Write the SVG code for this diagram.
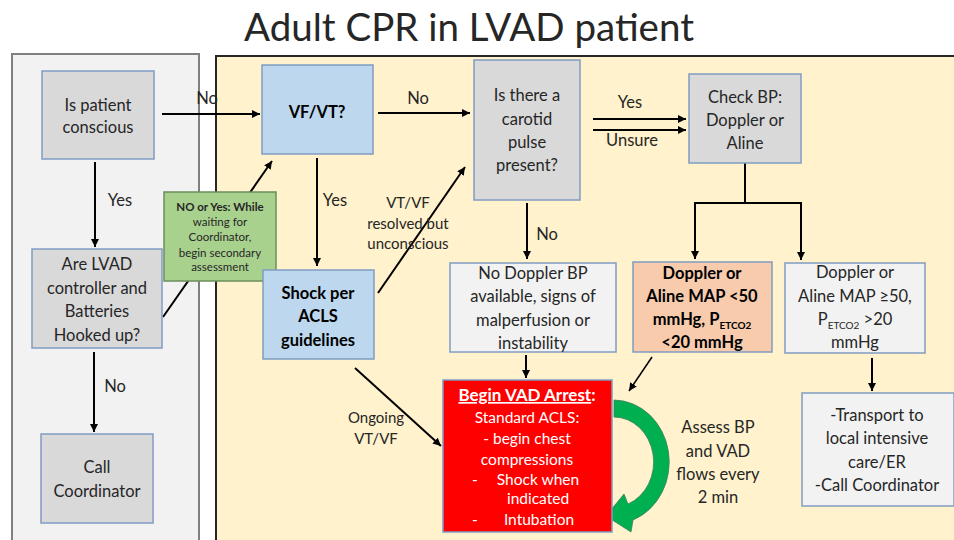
<svg xmlns="http://www.w3.org/2000/svg" width="954" height="540" viewBox="0 0 954 540">
<defs>
<marker id="ah" markerUnits="userSpaceOnUse" markerWidth="10" markerHeight="10" refX="8" refY="4" orient="auto">
<path d="M0,0 L8,4 L0,8 Z" fill="#000"/>
</marker>
<style>
text{font-family:Lato,"Open Sans","Liberation Sans",sans-serif;fill:#262626;text-anchor:middle;font-size:16.5px}
.b{font-weight:bold;fill:#000}
.w{fill:#fff;font-size:15.5px}
.g{font-size:11.5px}
.box{stroke:#7f9cc2;stroke-width:1.5}
.gray{fill:#d9d9d9}
.blue{fill:#bdd7ee}
.light{fill:#f2f2f2}
.c{stroke:#000;stroke-width:2;fill:none;marker-end:url(#ah)}
.cl{stroke:#000;stroke-width:2;fill:none}
</style>
</defs>
<rect width="954" height="540" fill="#fff"/>
<text x="469" y="41" style="font-size:38.5px" fill="#262626">Adult CPR in LVAD patient</text>
<rect x="12" y="54" width="187" height="500" fill="#f2f2f2" stroke="#808080" stroke-width="2"/>
<rect x="216" y="56" width="750" height="500" fill="#fff2cc" stroke="#262626" stroke-width="2"/>

<g id="connectors">
<path class="c" d="M162 114 H260"/>
<path class="c" d="M95 162 V247"/>
<path class="c" d="M94 352 V432"/>
<path class="c" d="M163 317 L272 161"/>
<path class="c" d="M378 113 H470"/>
<path class="c" d="M317 158 V266"/>
<path class="c" d="M378 293 L465 167"/>
<path class="c" d="M355 368 L441 446"/>
<path class="c" d="M593 119 H686"/>
<path class="c" d="M593 130 H686"/>
<path class="cl" d="M745 163 V203 M694 203 H802"/>
<path class="c" d="M695 203 V259"/>
<path class="c" d="M801 203 V260"/>
<path class="c" d="M527 203 V259"/>
<path class="c" d="M526 355 V378"/>
<path class="c" d="M652 357 L629 391" style="stroke-width:1.5"/>
<path class="c" d="M872 358 V391"/>
<path d="M614 400 A 56 62 0 0 1 633 520 L 631 532 L 606 516 L 624 494 L 628 504 A 40 45 0 0 0 614 417 Z" fill="#00b050" stroke="#3f7f5f" stroke-width="0.8"/>
<text x="207" y="104">No</text>
<text x="120" y="206">Yes</text>
<text x="115" y="392">No</text>
<text x="418" y="104">No</text>
<text x="335" y="206">Yes</text>
<text x="630" y="108">Yes</text>
<text x="632" y="146">Unsure</text>
<text x="547" y="240">No</text>
<text x="408" y="208" style="font-size:15px">VT/VF</text>
<text x="408" y="229" style="font-size:15px">resolved but</text>
<text x="408" y="249" style="font-size:15px">unconscious</text>
<text x="376" y="423" style="font-size:15px">Ongoing</text>
<text x="376" y="444" style="font-size:15px">VT/VF</text>
<text x="718" y="433">Assess BP</text>
<text x="718" y="457">and VAD</text>
<text x="718" y="480">flows every</text>
<text x="718" y="503">2 min</text>
</g>

<g id="conscious">
<rect class="box gray" x="42" y="71" width="112" height="88"/>
<text x="98" y="111">Is patient</text>
<text x="98" y="133">conscious</text>
</g>
<g id="lvad">
<rect class="box gray" x="32" y="249" width="130" height="99"/>
<text x="97" y="270">Are LVAD</text>
<text x="97" y="294">controller and</text>
<text x="97" y="317">Batteries</text>
<text x="97" y="341">Hooked up?</text>
</g>
<g id="call">
<rect class="box gray" x="41" y="434" width="112" height="89"/>
<text x="97" y="473">Call</text>
<text x="97" y="497">Coordinator</text>
</g>
<g id="note">
<rect x="164" y="192" width="112" height="89" fill="#a9d18e" stroke="#6b8e5a" stroke-width="1.5"/>
<text class="g" x="220" y="211" font-weight="bold">NO or Yes: While</text>
<text class="g" x="220" y="226">waiting for</text>
<text class="g" x="220" y="241">Coordinator,</text>
<text class="g" x="220" y="257">begin secondary</text>
<text class="g" x="220" y="271">assessment</text>
</g>
<g id="vfvt">
<rect class="box blue" x="262" y="65" width="111" height="89"/>
<text class="b" x="317" y="118">VF/VT?</text>
</g>
<g id="shock">
<rect class="box blue" x="263" y="270" width="111" height="89"/>
<text class="b" x="318" y="299">Shock per</text>
<text class="b" x="318" y="322">ACLS</text>
<text class="b" x="318" y="346">guidelines</text>
</g>
<g id="carotid">
<rect class="box gray" x="474" y="60" width="106" height="140"/>
<text x="527" y="101">Is there a</text>
<text x="527" y="125">carotid</text>
<text x="527" y="148">pulse</text>
<text x="527" y="171">present?</text>
</g>
<g id="checkbp">
<rect class="box gray" x="689" y="74" width="112" height="89"/>
<text x="745" y="103">Check BP:</text>
<text x="745" y="126">Doppler or</text>
<text x="745" y="149">Aline</text>
</g>
<g id="nodoppler">
<rect class="box light" x="450" y="263" width="166" height="89"/>
<text x="533" y="279">No Doppler BP</text>
<text x="533" y="302">available, signs of</text>
<text x="533" y="326">malperfusion or</text>
<text x="533" y="349">instability</text>
</g>
<g id="low">
<rect class="box" x="633" y="262" width="139" height="90" fill="#f8cbad"/>
<text class="b" x="702" y="279">Doppler or</text>
<text class="b" x="702" y="302">Aline MAP &lt;50</text>
<text class="b" x="702" y="325">mmHg, P<tspan style="font-size:10px" dy="4">ETCO2</tspan></text>
<text class="b" x="702" y="348">&lt;20 mmHg</text>
</g>
<g id="high">
<rect class="box light" x="785" y="263" width="140" height="90"/>
<text x="855" y="278">Doppler or</text>
<text x="855" y="302">Aline MAP ≥50,</text>
<text x="855" y="325">P<tspan style="font-size:10px" dy="4">ETCO2</tspan><tspan dy="-4"> &gt;20</tspan></text>
<text x="855" y="348">mmHg</text>
</g>
<g id="transport">
<rect class="box light" x="802" y="393" width="152" height="113"/>
<text x="877" y="421">-Transport to</text>
<text x="877" y="444">local intensive</text>
<text x="877" y="468">care/ER</text>
<text x="877" y="491">-Call Coordinator</text>
</g>
<g id="arrest">
<rect class="box" x="443" y="380" width="169" height="152" fill="#ff0000"/>
<text class="w" x="527" y="401" style="font-weight:bold;font-size:17px"><tspan text-decoration="underline">Begin VAD Arrest</tspan>:</text>
<text class="w" x="527" y="423">Standard ACLS:</text>
<text class="w" x="527" y="444">- begin chest</text>
<text class="w" x="527" y="465">compressions</text>
<text class="w" x="475" y="485">-</text>
<text class="w" x="538" y="485">Shock when</text>
<text class="w" x="538" y="504">indicated</text>
<text class="w" x="475" y="525">-</text>
<text class="w" x="539" y="525">Intubation</text>
</g>
</svg>
